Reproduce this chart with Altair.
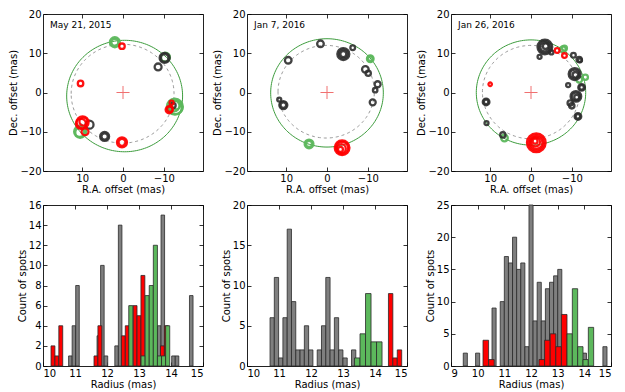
import altair as alt
import numpy as np
import pandas as pd

FONT = "DejaVu Sans"
C_GRAY_RING = "#2e2e2e"
C_RED = "#ff0000"
C_GREEN = "#5cb85c"
C_FIT = "#3c9c3c"
C_HGRAY = "#7f7f7f"

DATES = ["May 21, 2015", "Jan 7, 2016", "Jan 26, 2016"]

# ---------------- spot maps (R.A. offset, Dec. offset in mas; relative flux; group)
E1_RA = [2.0, 2.0, 0.25, -10.2, -10.2, -10.4, -8.6, 10.4, -12.7, -12.9, -12.5, -13.0, -12.3,
         -11.3, -11.5, -11.9, 8.2, 9.9, 10.3, 9.7, 10.5, 10.6, 9.3, 4.5, 4.5, 0.25, 0.25]
E1_DEC = [12.8, 12.8, 11.8, 8.8, 8.8, 9.0, 6.5, 2.3, -3.6, -3.8, -3.4, -3.2, -3.3,
          -4.4, -4.2, -2.6, -8.2, -7.6, -8.0, -7.4, -10.0, -10.2, -10.0, -11.2, -11.2, -12.7, -12.7]
E1_FLUX = [0.25, 0.12, 0.076, 0.25, 0.14, 0.2, 0.12, 0.076, 0.64, 0.45, 0.3, 0.18, 0.06,
           0.12, 0.08, 0.04, 0.16, 0.36, 0.25, 0.16, 0.36, 0.2, 0.12, 0.2, 0.1, 0.25, 0.12]
E1_GRP = ["green", "green", "red", "gray", "gray", "green", "gray", "red", "green", "green", "green", "green", "gray",
          "red", "red", "red", "gray", "red", "red", "red", "green", "green", "red", "gray", "gray", "red", "red"]

E2_RA = [1.6, -4.0, -4.0, -4.0, -6.3, -10.6, -10.6, 9.5, -9.4, -10.1, -12.4, -11.8,
         11.7, 10.7, 10.7, -11.2, 4.4, 4.4, -3.7, -3.7, -3.5, -3.3]
E2_DEC = [12.4, 9.8, 9.8, 9.8, 11.4, 8.6, 8.6, 8.2, 5.9, 4.9, 2.1, 0.6,
          -1.8, -3.2, -3.2, -2.5, -13.1, -13.1, -14.1, -14.1, -14.3, -14.5]
E2_FLUX = [0.11, 0.36, 0.2, 0.09, 0.055, 0.11, 0.05, 0.11, 0.11, 0.07, 0.09, 0.05,
           0.04, 0.16, 0.08, 0.09, 0.19, 0.09, 0.54, 0.36, 0.2, 0.06]
E2_GRP = ["gray", "gray", "gray", "gray", "gray", "green", "green", "gray", "gray", "gray", "gray", "gray",
          "gray", "gray", "gray", "gray", "green", "green", "red", "red", "red", "red"]

E3_RA = [-3.4, -3.4, -3.4, -3.6, -2.1, -5.0, -6.4, -7.8, -8.2, -8.2, -10.4, -11.8, -12.0,
         -11.8, -13.3, -10.7, -10.7, -10.9, -12.4, -12.4, -11.0, -11.0, -11.2, -9.1, -9.6,
         -10.0, -11.5, -11.5, 10.0, 11.0, 11.0, 10.9, 6.9, 6.5, -1.3, -1.3, -1.3, -1.1, -1.0]
E3_DEC = [11.6, 11.6, 11.6, 11.8, 9.1, 10.2, 10.7, 11.0, 11.3, 9.4, 9.5, 8.4, 8.2,
          3.3, 3.9, 4.7, 4.7, 4.5, 1.3, 1.3, -1.0, -1.0, -1.2, 1.9, -2.7,
          -3.4, -6.1, -6.1, 2.1, -2.4, -2.4, -7.8, -10.8, -11.6, -12.8, -12.8, -12.8, -12.6, -12.4]
E3_FLUX = [0.54, 0.36, 0.2, 0.08, 0.04, 0.04, 0.055, 0.09, 0.06, 0.055, 0.055, 0.07, 0.04,
           0.09, 0.07, 0.36, 0.2, 0.08, 0.11, 0.05, 0.28, 0.15, 0.06, 0.04, 0.07,
           0.07, 0.11, 0.05, 0.03, 0.11, 0.05, 0.04, 0.07, 0.11, 0.87, 0.6, 0.38, 0.2, 0.06]
E3_GRP = ["gray", "gray", "gray", "gray", "gray", "gray", "red", "green", "green", "red", "gray", "gray", "gray",
          "green", "green", "gray", "gray", "gray", "gray", "gray", "gray", "gray", "gray", "gray", "gray",
          "gray", "gray", "gray", "red", "gray", "gray", "gray", "gray", "green", "red", "red", "red", "red", "red"]

# fitted ring (solid green) and reference ring (dashed gray): centre R.A., centre Dec., radius
FIT_RA = [-0.4, 0.0, 0.0]
FIT_DEC = [-0.9, -0.1, 0.0]
FIT_R = [14.2, 13.8, 13.4]
REF_RA = [0.1, 0.2, 0.0]
REF_DEC = [-0.3, 0.2, 0.1]
REF_R = [12.6, 11.8, 11.9]

# ---------------- radius histograms: first bin edge, bin width, counts
H1_GRAY = (10.80, 0.1111, [1, 4, 8, 0, 0, 0, 0, 0, 3, 10, 1, 0, 0, 2, 14, 0, 0, 0, 0, 0, 0, 0, 0, 0, 0,
                           4, 15, 0, 0, 1, 1, 0, 0, 0, 7])
H1_RED = (10.25, 0.1222, [2, 1, 4, 0, 0, 0, 0, 0, 0, 0, 0, 1, 4, 0, 0, 0, 0, 0, 3, 4, 0, 6, 5, 9, 0, 0, 0, 0, 2, 4])
H1_GREEN = (12.68, 0.128, [6, 0, 0, 1, 7, 8, 12, 1, 1, 4])

H2_GRAY = (10.72, 0.134, [6, 11, 1, 6, 17, 8, 2, 2, 5, 2, 0, 2, 5, 11, 2, 6, 2, 1, 0, 2])
H2_RED = (14.42, 0.138, [9, 1, 2])
H2_GREEN = (13.36, 0.172, [1, 4, 9, 3, 3])

H3_GRAY = (9.46, 0.154, [2, 0, 0, 2, 0, 0, 0, 9, 0, 10, 17, 16, 20, 15, 16, 3, 25, 7, 13, 7, 12, 13, 14, 15,
                         0, 0, 0, 0, 0, 2, 0, 0, 0, 0, 3])
H3_RED = (10.2, 0.21, [4, 1, 0, 0, 0, 0, 0, 0, 0, 0, 1, 4, 5, 3, 8])
H3_GREEN = (13.35, 0.2, [5, 12, 3, 1, 6])

HIST_X = [(10, 15, [10, 11, 12, 13, 14, 15]), (10, 15, [10, 11, 12, 13, 14, 15]),
          (9, 15, [9, 10, 11, 12, 13, 14, 15])]
HIST_Y = [(16, [0, 2, 4, 6, 8, 10, 12, 14, 16]), (20, [0, 5, 10, 15, 20]), (25, [0, 5, 10, 15, 20, 25])]

SPOTS = [(E1_RA, E1_DEC, E1_FLUX, E1_GRP), (E2_RA, E2_DEC, E2_FLUX, E2_GRP), (E3_RA, E3_DEC, E3_FLUX, E3_GRP)]
HISTS = [(H1_GRAY, H1_RED, H1_GREEN), (H2_GRAY, H2_RED, H2_GREEN), (H3_GRAY, H3_RED, H3_GREEN)]

W = 160
H_TOP = 157
H_BOT = 161
XLIM = 19.6
TICK = 4


def ring_df(cx, cy, r):
    t = np.linspace(0, 2 * np.pi, 181)
    return pd.DataFrame({"ra": cx + r * np.cos(t), "dec": cy + r * np.sin(t), "i": np.arange(len(t))})


def tick_axis(orient, values):
    # ticks only, drawn inside the frame (matplotlib "in" style)
    return alt.Axis(orient=orient, values=values, labels=False, title=None, offset=-TICK,
                    ticks=True, tickSize=TICK, domain=False)


def main_axis(values, title):
    return alt.Axis(values=values, title=title, format="d", offset=-TICK,
                    ticks=True, tickSize=TICK, domain=False)


def sky_panel(k):
    ra, dec, flux, grp = SPOTS[k]
    xs = alt.Scale(domain=[-XLIM, XLIM], reverse=True, nice=False, zero=False)
    ys = alt.Scale(domain=[-20, 20], nice=False, zero=False)
    xv, yv = [10, 0, -10], [-20, -10, 0, 10, 20]
    xenc = alt.X("ra:Q", scale=xs, axis=main_axis(xv, "R.A. offset (mas)"))
    yenc = alt.Y("dec:Q", scale=ys, axis=main_axis(yv, "Dec. offset (mas)"))
    fit = alt.Chart(ring_df(FIT_RA[k], FIT_DEC[k], FIT_R[k])).mark_line(
        color=C_FIT, strokeWidth=1).encode(x=xenc, y=yenc, order="i:Q")
    ref = alt.Chart(ring_df(REF_RA[k], REF_DEC[k], REF_R[k])).mark_line(
        color="#9a9a9a", strokeWidth=1, strokeDash=[3, 3]).encode(x=xenc, y=yenc, order="i:Q")
    df = pd.DataFrame({"ra": ra, "dec": dec, "flux": flux, "grp": grp})
    order_map = {"green": 0, "gray": 1, "red": 2}
    df["o"] = df["grp"].map(order_map)
    df = df.sort_values("o", kind="stable")
    spots = alt.Chart(df).mark_point(shape="circle", filled=False, strokeWidth=2.3).encode(
        x=xenc, y=yenc,
        size=alt.Size("flux:Q", scale=alt.Scale(domain=[0, 1], range=[0, 400]), legend=None),
        color=alt.Color("grp:N", scale=alt.Scale(domain=["gray", "red", "green"],
                                                 range=[C_GRAY_RING, C_RED, C_GREEN]), legend=None),
        opacity=alt.Opacity("grp:N", scale=alt.Scale(domain=["gray", "red", "green"],
                                                     range=[0.9, 0.95, 0.65]), legend=None),
        order="o:Q",
    )
    center = pd.DataFrame({"ra": [0.0], "dec": [0.0]})
    cross = alt.Chart(center).mark_point(
        shape="M-1,0L1,0M0,-1L0,1", size=170, stroke="#f07070", strokeWidth=1, opacity=1).encode(x=xenc, y=yenc)
    label = alt.Chart(pd.DataFrame({"t": [DATES[k]]})).mark_text(
        align="left", baseline="top", font=FONT, fontSize=9, color="#000").encode(
        x=alt.value(7), y=alt.value(7), text="t:N")
    main = alt.layer(ref, fit, spots, cross, label)
    ticks = alt.Chart(center).mark_point(opacity=0).encode(
        x=alt.X("ra:Q", scale=xs, axis=tick_axis("top", xv)),
        y=alt.Y("dec:Q", scale=ys, axis=tick_axis("right", yv)))
    return alt.layer(main, ticks).resolve_axis(x="independent", y="independent").properties(
        width=W, height=H_TOP)


def hist_df(spec):
    start, w, counts = spec
    left = [start + i * w for i in range(len(counts))]
    return pd.DataFrame({"l": left, "r": [a + w for a in left], "c": counts})


def hist_panel(k):
    x0, x1, xt = HIST_X[k]
    ymax, yt = HIST_Y[k]
    xs = alt.Scale(domain=[x0, x1], nice=False, zero=False)
    ys = alt.Scale(domain=[0, ymax], nice=False)
    xenc = alt.X("l:Q", scale=xs, axis=main_axis(xt, "Radius (mas)"))
    yenc = alt.Y("c:Q", scale=ys, axis=main_axis(yt, "Count of spots"))
    layers = []
    for spec, col in zip(HISTS[k], [C_HGRAY, C_RED, C_GREEN]):
        d = hist_df(spec)
        d = d[d["c"] > 0]
        layers.append(alt.Chart(d).mark_bar(fill=col, stroke="#2a2a2a", strokeWidth=0.8, opacity=1).encode(
            x=xenc, x2="r:Q", y=yenc, y2=alt.datum(0)))
    main = alt.layer(*layers)
    ticks = alt.Chart(pd.DataFrame({"l": [float(x0)], "c": [0.0]})).mark_point(opacity=0).encode(
        x=alt.X("l:Q", scale=xs, axis=tick_axis("top", xt)),
        y=alt.Y("c:Q", scale=ys, axis=tick_axis("right", yt)))
    return alt.layer(main, ticks).resolve_axis(x="independent", y="independent").properties(
        width=W, height=H_BOT)


chart = alt.concat(
    sky_panel(0), sky_panel(1), sky_panel(2),
    hist_panel(0), hist_panel(1), hist_panel(2),
    columns=3, spacing={"row": 4, "column": 8},
).properties(
    padding={"left": 0, "top": 0, "right": 0, "bottom": 0}
).configure_view(
    stroke="#222222", strokeWidth=1
).configure_axis(
    labelFont=FONT, titleFont=FONT, labelFontSize=10, titleFontSize=10,
    titleFontWeight="normal", labelColor="#000", titleColor="#000",
    grid=False, domain=False, tickColor="#000", tickWidth=0.8, labelPadding=2, titlePadding=1,
)

chart.save("out.html", embed_options={"renderer": "svg", "actions": False})
